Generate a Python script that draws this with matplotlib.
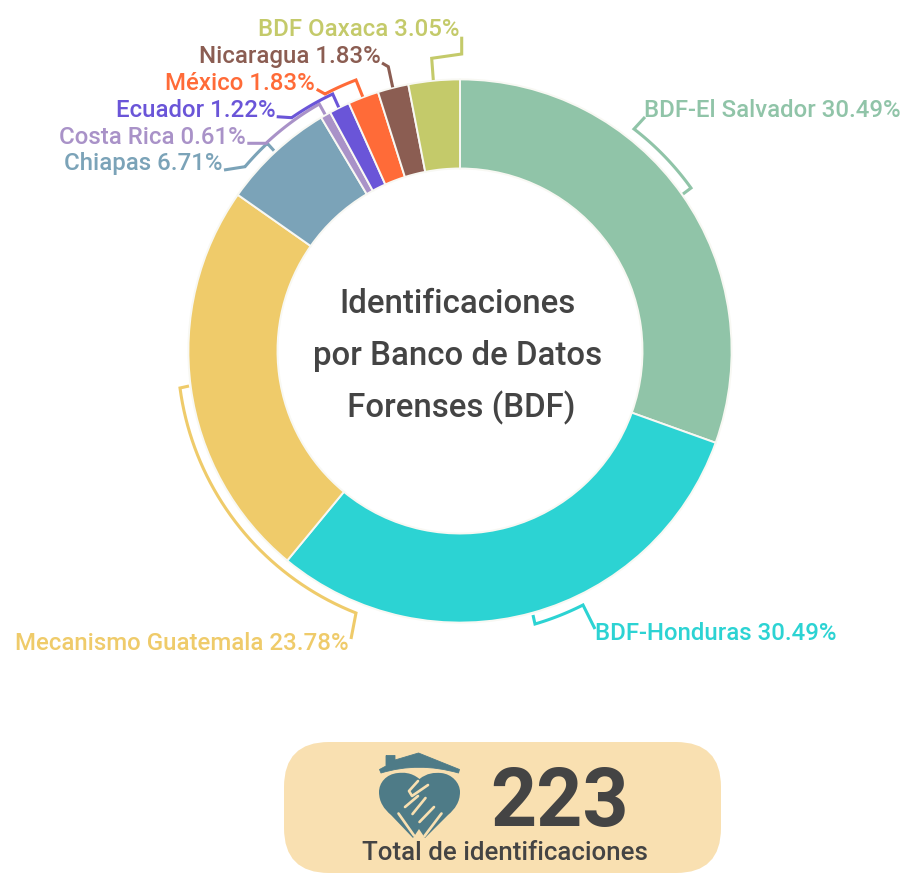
import numpy as np
import matplotlib
matplotlib.use("Agg")
import matplotlib.pyplot as plt
from matplotlib.patches import FancyBboxPatch, PathPatch
from matplotlib.path import Path

W, H = 910, 881
CX, CY = 460, 351
R_OUT, R_IN = 271.6, 182.5

categories = ["BDF-El Salvador", "BDF-Honduras", "Mecanismo Guatemala", "Chiapas",
              "Costa Rica", "Ecuador", "México", "Nicaragua", "BDF Oaxaca"]
percentages = [30.49, 30.49, 23.78, 6.71, 0.61, 1.22, 1.83, 1.83, 3.05]
colors = ["#90C4A8", "#2CD3D3", "#EFCB6A", "#7BA3B8", "#A992C8",
          "#6A55D8", "#FF6B38", "#8B5D52", "#C4CA6A"]
center_lines = ["Identificaciones", "por Banco de Datos", " Forenses (BDF)"]
total_value = 223
total_label = "Total de identificaciones"
DARK = "#444444"
FONT = "Roboto"

plt.rcParams["font.family"] = [FONT, "DejaVu Sans"]
fig = plt.figure(figsize=(W / 100, H / 100), dpi=100)
ax = fig.add_axes([0, 0, 1, 1])
ax.set_aspect("equal")

def Y(y):
    return H - y

ax.pie(percentages, colors=colors, startangle=90, counterclock=False,
       center=(CX, Y(CY)), radius=R_OUT, frame=True,
       wedgeprops=dict(width=R_OUT - R_IN, edgecolor="#F8F8F3", linewidth=1.4))
ax.set_xlim(0, W)
ax.set_ylim(0, H)
ax.axis("off")

def arc_points(p0, p1, n=40):
    a0 = np.arctan2(p0[1] - CY, p0[0] - CX)
    a1 = np.arctan2(p1[1] - CY, p1[0] - CX)
    r0 = np.hypot(p0[0] - CX, p0[1] - CY)
    r1 = np.hypot(p1[0] - CX, p1[1] - CY)
    d = (a1 - a0 + np.pi) % (2 * np.pi) - np.pi
    t = np.linspace(0, 1, n)
    r = r0 + (r1 - r0) * t
    a = a0 + d * t
    return list(zip(CX + r * np.cos(a), CY + r * np.sin(a)))

def leader(color, before, arc, after, lw=2.2):
    pts = list(before)
    if arc is not None:
        pts += arc_points(*arc)
    pts += list(after)
    xs = [p[0] for p in pts]
    ys = [Y(p[1]) for p in pts]
    ax.plot(xs, ys, color=color, lw=lw, solid_capstyle="butt", solid_joinstyle="miter")

leader(colors[0], [(645, 117)], ((634, 129), (691, 188)), [(683, 194)])
leader(colors[1], [(533, 615)], ((535, 624), (583, 605)), [(595, 629)])
leader(colors[2], [(189, 386)], ((180, 388), (356, 613)), [(351, 639)])
leader(colors[3], [(224, 170)], ((245, 166.7), (267.3, 143.3)), [(274, 150.7)])
leader(colors[4], [(247.3, 143.3)], ((266, 143.3), (319.3, 104)), [(325, 114.3)])
leader(colors[5], [(276.7, 116.7)], ((291.7, 117.7), (332.7, 94)), [(338.7, 107.3)])
leader(colors[6], [(316.7, 89.3)], ((325, 94), (356, 80)), [(362.7, 96.7)])
leader(colors[7], [(382, 63), (388.3, 66.7), (392.7, 87.3)], None, [])
leader(colors[8], [(461.7, 36.7), (461.7, 54), (431.7, 58.3), (433.3, 80)], None, [])

LABEL_SIZE = 17.3
label_pos = [
    (901, 117, "right"), (595, 639.5, "left"), (349, 650, "right"), (222, 170, "right"),
    (245.5, 143.5, "right"), (275.5, 117, "right"), (315, 90, "right"), (381, 63, "right"),
    (459.5, 36.5, "right"),
]
for name, pct, c, (x, y, ha) in zip(categories, percentages, colors, label_pos):
    ax.text(x, Y(y), f"{name} {pct:.2f}%", color=c, fontsize=LABEL_SIZE, fontweight="medium",
            ha=ha, va="baseline")

for line, (x, y) in zip(center_lines, [(457.5, 312.7), (457.5, 364.5), (457.5, 417)]):
    ax.text(x, Y(y), line, color=DARK, fontsize=23.8, fontweight="medium", ha="center", va="baseline")

# total box
box = FancyBboxPatch((284 + 45, Y(873) + 45), 437 - 90, 131 - 90,
                     boxstyle="round,pad=45,rounding_size=45", fc="#F9E0B1", ec="none")
ax.add_patch(box)
ax.text(559.5, Y(826), str(total_value), color=DARK, fontsize=58, fontweight="bold", ha="center", va="baseline")
ax.text(504.5, Y(860.5), total_label, color=DARK, fontsize=18.6, fontweight="medium", ha="center", va="baseline")

# icon
TEAL = "#4E7B87"
BG = "#F9E0B1"
M, C3, C4, L, CL = Path.MOVETO, Path.CURVE3, Path.CURVE4, Path.LINETO, Path.CLOSEPOLY

def shape(parts, **kw):
    verts, codes = [], []
    for (x, y), c in parts:
        verts.append((x, Y(y)))
        codes.append(c)
    ax.add_patch(PathPatch(Path(verts, codes), **kw))

shape([((386, 755.5), M), ((395, 755.5), L), ((395, 760), L), ((418.5, 753), L),
       ((459.5, 769.5), L), ((458.5, 773), L), ((418.5, 761.5), C3), ((381, 773), C3),
       ((379.5, 769.5), L), ((386, 766), L), ((386, 755.5), L)],
      fc=TEAL, ec=TEAL, lw=0.6, joinstyle="round")

shape([((419.5, 779), M), ((411, 772), C4), ((403, 772.5), C4), ((398, 773), C4),
       ((386, 774), C4), ((379, 783), C4), ((379, 792), C4),
       ((379, 802), C4), ((384, 809), C4), ((391, 815), C4),
       ((413, 838), L), ((419, 829), L), ((425, 838), L),
       ((448, 815), L), ((455, 809), C4), ((460, 802), C4), ((460, 792), C4),
       ((460, 783), C4), ((452, 774), C4), ((441, 773), C4),
       ((434, 772.5), C4), ((427, 773), C4), ((419.5, 779), C4)],
      fc=TEAL, ec="none")

for pts in [[(428, 785), (412, 796), (409, 791), (418, 781)],
            [(405, 807), (418, 796)], [(412.5, 814), (425.5, 798)],
            [(419.5, 822), (434, 807)], [(424.5, 836), (441.5, 813.5)],
            [(398.5, 813.5), (414, 835.5)]]:
    ax.plot([p[0] for p in pts], [Y(p[1]) for p in pts], color=BG, lw=1.9,
            solid_capstyle="round", solid_joinstyle="round")

fig.savefig("out.png", dpi=100, facecolor="white")
